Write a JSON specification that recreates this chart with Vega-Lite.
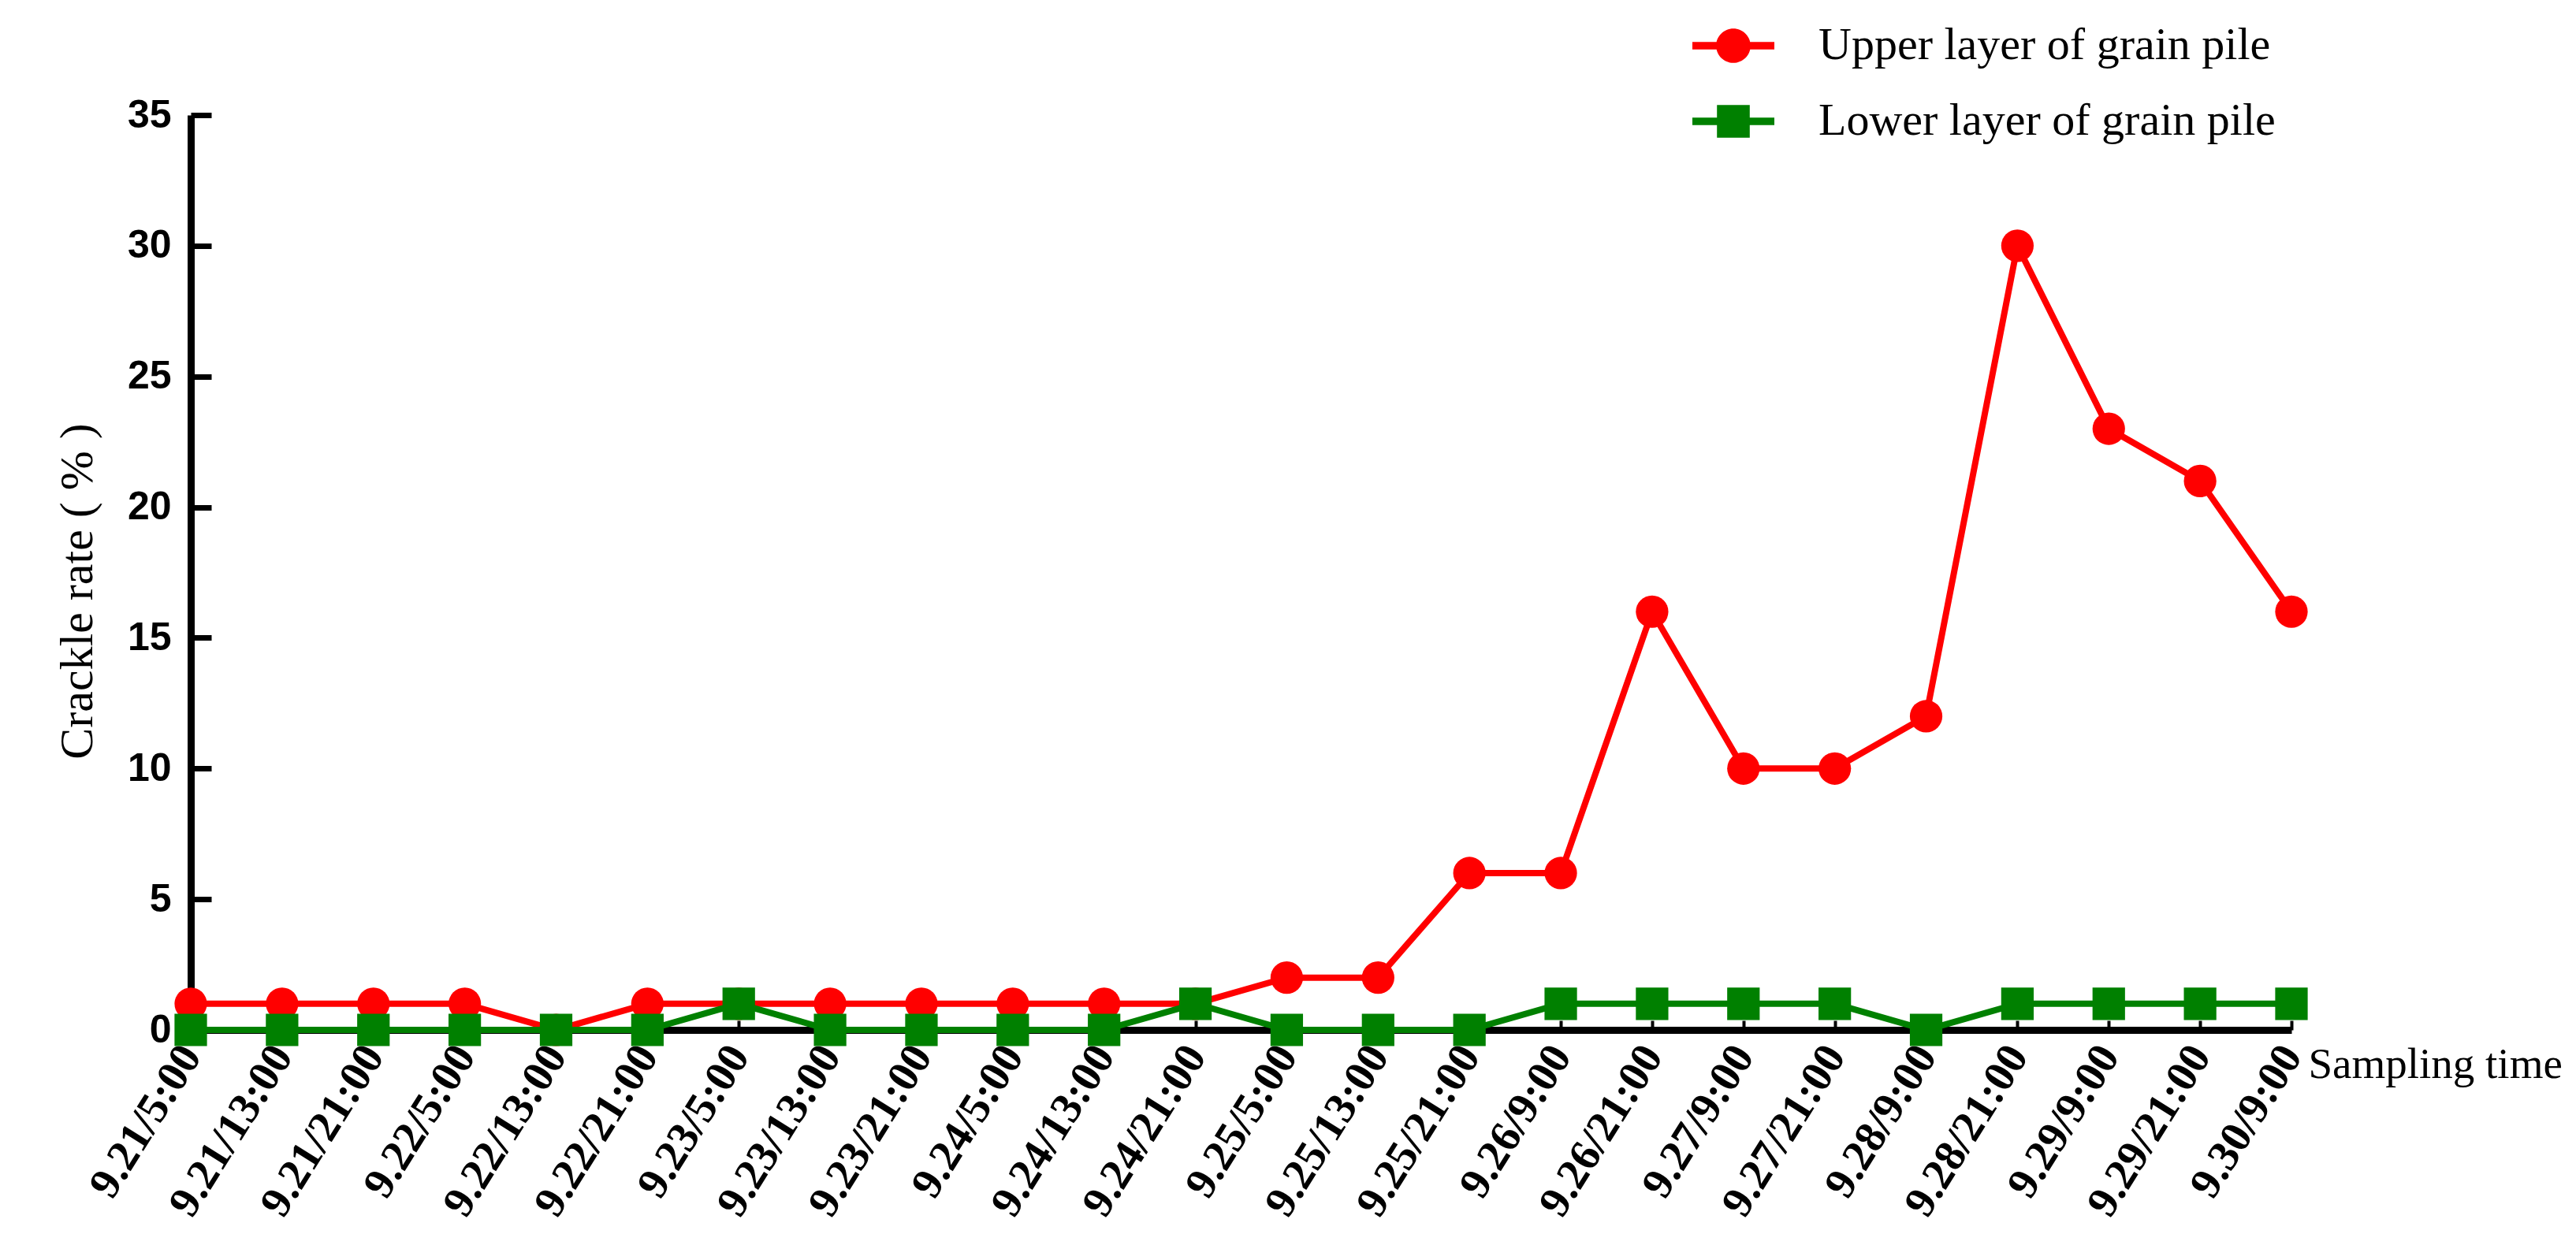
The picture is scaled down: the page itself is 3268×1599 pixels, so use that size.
{
  "$schema": "https://vega.github.io/schema/vega-lite/v6.json",
  "width": 2665,
  "height": 1161,
  "autosize": {"type": "none"},
  "padding": {"left": 242, "top": 146, "right": 361, "bottom": 292},
  "background": "white",
  "config": {"view": {"stroke": null}},
  "data": {
    "values": [
      {"time": "9.21/5:00", "layer": "Upper layer of grain pile", "rate": 1},
      {"time": "9.21/13:00", "layer": "Upper layer of grain pile", "rate": 1},
      {"time": "9.21/21:00", "layer": "Upper layer of grain pile", "rate": 1},
      {"time": "9.22/5:00", "layer": "Upper layer of grain pile", "rate": 1},
      {"time": "9.22/13:00", "layer": "Upper layer of grain pile", "rate": 0},
      {"time": "9.22/21:00", "layer": "Upper layer of grain pile", "rate": 1},
      {"time": "9.23/5:00", "layer": "Upper layer of grain pile", "rate": 1},
      {"time": "9.23/13:00", "layer": "Upper layer of grain pile", "rate": 1},
      {"time": "9.23/21:00", "layer": "Upper layer of grain pile", "rate": 1},
      {"time": "9.24/5:00", "layer": "Upper layer of grain pile", "rate": 1},
      {"time": "9.24/13:00", "layer": "Upper layer of grain pile", "rate": 1},
      {"time": "9.24/21:00", "layer": "Upper layer of grain pile", "rate": 1},
      {"time": "9.25/5:00", "layer": "Upper layer of grain pile", "rate": 2},
      {"time": "9.25/13:00", "layer": "Upper layer of grain pile", "rate": 2},
      {"time": "9.25/21:00", "layer": "Upper layer of grain pile", "rate": 6},
      {"time": "9.26/9:00", "layer": "Upper layer of grain pile", "rate": 6},
      {"time": "9.26/21:00", "layer": "Upper layer of grain pile", "rate": 16},
      {"time": "9.27/9:00", "layer": "Upper layer of grain pile", "rate": 10},
      {"time": "9.27/21:00", "layer": "Upper layer of grain pile", "rate": 10},
      {"time": "9.28/9:00", "layer": "Upper layer of grain pile", "rate": 12},
      {"time": "9.28/21:00", "layer": "Upper layer of grain pile", "rate": 30},
      {"time": "9.29/9:00", "layer": "Upper layer of grain pile", "rate": 23},
      {"time": "9.29/21:00", "layer": "Upper layer of grain pile", "rate": 21},
      {"time": "9.30/9:00", "layer": "Upper layer of grain pile", "rate": 16},
      {"time": "9.21/5:00", "layer": "Lower layer of grain pile", "rate": 0},
      {"time": "9.21/13:00", "layer": "Lower layer of grain pile", "rate": 0},
      {"time": "9.21/21:00", "layer": "Lower layer of grain pile", "rate": 0},
      {"time": "9.22/5:00", "layer": "Lower layer of grain pile", "rate": 0},
      {"time": "9.22/13:00", "layer": "Lower layer of grain pile", "rate": 0},
      {"time": "9.22/21:00", "layer": "Lower layer of grain pile", "rate": 0},
      {"time": "9.23/5:00", "layer": "Lower layer of grain pile", "rate": 1},
      {"time": "9.23/13:00", "layer": "Lower layer of grain pile", "rate": 0},
      {"time": "9.23/21:00", "layer": "Lower layer of grain pile", "rate": 0},
      {"time": "9.24/5:00", "layer": "Lower layer of grain pile", "rate": 0},
      {"time": "9.24/13:00", "layer": "Lower layer of grain pile", "rate": 0},
      {"time": "9.24/21:00", "layer": "Lower layer of grain pile", "rate": 1},
      {"time": "9.25/5:00", "layer": "Lower layer of grain pile", "rate": 0},
      {"time": "9.25/13:00", "layer": "Lower layer of grain pile", "rate": 0},
      {"time": "9.25/21:00", "layer": "Lower layer of grain pile", "rate": 0},
      {"time": "9.26/9:00", "layer": "Lower layer of grain pile", "rate": 1},
      {"time": "9.26/21:00", "layer": "Lower layer of grain pile", "rate": 1},
      {"time": "9.27/9:00", "layer": "Lower layer of grain pile", "rate": 1},
      {"time": "9.27/21:00", "layer": "Lower layer of grain pile", "rate": 1},
      {"time": "9.28/9:00", "layer": "Lower layer of grain pile", "rate": 0},
      {"time": "9.28/21:00", "layer": "Lower layer of grain pile", "rate": 1},
      {"time": "9.29/9:00", "layer": "Lower layer of grain pile", "rate": 1},
      {"time": "9.29/21:00", "layer": "Lower layer of grain pile", "rate": 1},
      {"time": "9.30/9:00", "layer": "Lower layer of grain pile", "rate": 1}
    ]
  },
  "encoding": {
    "x": {
      "field": "time",
      "type": "ordinal",
      "sort": null,
      "scale": {"type": "point", "padding": 0},
      "axis": {
        "title": "Sampling time",
        "titleX": 2686,
        "titleY": 43,
        "titleAlign": "left",
        "titleBaseline": "middle",
        "titleAngle": 0,
        "titleFont": "Liberation Serif",
        "titleFontWeight": "normal",
        "titleFontSize": 55,
        "titleColor": "black",
        "labelAngle": -58,
        "labelFont": "Liberation Serif",
        "labelFontWeight": "bold",
        "labelFontSize": 56,
        "labelColor": "black",
        "labelPadding": 36,
        "labelOverlap": false,
        "labelLimit": 0,
        "domainColor": "black",
        "domainWidth": 9,
        "tickColor": "black",
        "tickWidth": 4,
        "tickSize": -12,
        "grid": false
      }
    },
    "y": {
      "field": "rate",
      "type": "quantitative",
      "scale": {"domain": [0, 35], "nice": false, "zero": true},
      "axis": {
        "title": "Crackle rate ( % )",
        "titleFont": "Liberation Serif",
        "titleFontWeight": "normal",
        "titleFontSize": 60,
        "titleColor": "black",
        "titlePadding": 32,
        "titleY": 604,
        "values": [0, 5, 10, 15, 20, 25, 30, 35],
        "labelFont": "Liberation Sans",
        "labelFontWeight": "bold",
        "labelFontSize": 50,
        "labelColor": "black",
        "labelPadding": 51,
        "domainColor": "black",
        "domainWidth": 9,
        "tickColor": "black",
        "tickWidth": 7,
        "tickSize": -26,
        "grid": false
      }
    },
    "color": {
      "field": "layer",
      "type": "nominal",
      "scale": {
        "domain": ["Upper layer of grain pile", "Lower layer of grain pile"],
        "range": ["#ff0000", "#008000"]
      },
      "legend": {
        "orient": "none",
        "legendX": 1905,
        "legendY": -140,
        "title": null,
        "direction": "vertical",
        "padding": 0,
        "symbolSize": 10816,
        "labelFont": "Liberation Serif",
        "labelFontSize": 58,
        "labelColor": "black",
        "labelOffset": 56,
        "labelLimit": 0,
        "rowPadding": 15,
        "symbolOpacity": 1,
        "encode": {
          "symbols": {
            "update": {
              "shape": {"signal": "datum.value === 'Upper layer of grain pile' ? 'M-1,-0.09L1,-0.09L1,0.09L-1,0.09Z M-0.42,0A0.42,0.42 0 1,1 0.42,0A0.42,0.42 0 1,1 -0.42,0Z' : 'M-1,-0.09L1,-0.09L1,0.09L-1,0.09Z M-0.4,-0.4L0.4,-0.4L0.4,0.4L-0.4,0.4Z'"},
              "fill": {"scale": "color", "field": "value"},
              "stroke": {"value": "transparent"},
              "strokeWidth": {"value": 0},
              "opacity": {"value": 1}
            }
          }
        }
      }
    }
  },
  "layer": [
    {
      "mark": {"type": "line", "strokeWidth": 8}
    },
    {
      "transform": [{"filter": "datum.layer === 'Upper layer of grain pile'"}],
      "mark": {"type": "point", "shape": "circle", "filled": true, "opacity": 1, "size": 1700}
    },
    {
      "transform": [{"filter": "datum.layer === 'Lower layer of grain pile'"}],
      "mark": {"type": "point", "shape": "square", "filled": true, "opacity": 1, "size": 1700}
    }
  ]
}
